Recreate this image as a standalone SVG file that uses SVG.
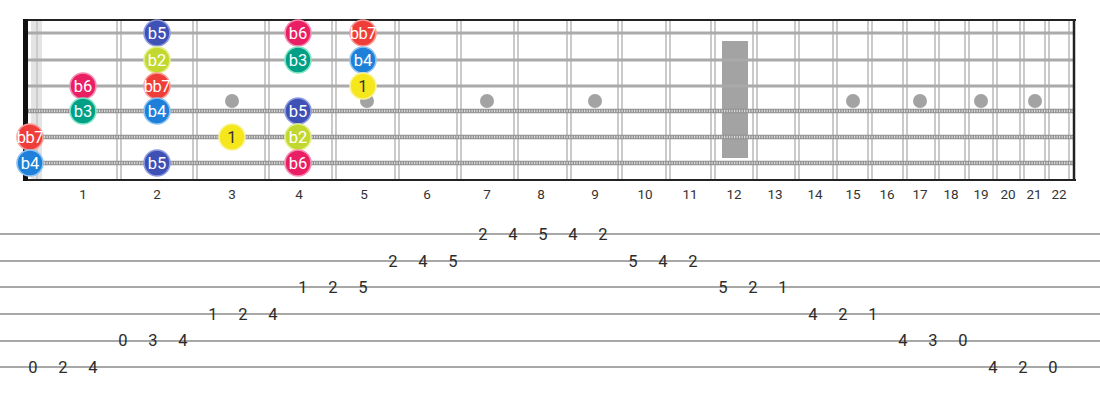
<svg xmlns="http://www.w3.org/2000/svg" width="1100" height="400" viewBox="0 0 1100 400">
<style>
.fret{stroke:#bdbdbd;stroke-width:1.6;}
.plain{stroke:#aaaaaa;stroke-width:2.8;}
.woundBase{stroke:#8f8f8f;stroke-width:4.5;}
.woundTex{stroke:#dcdcdc;stroke-width:2.5;stroke-dasharray:1.2 1.3;}
.inlay{fill:#a3a3a3;}
.flab{font-family:Roboto,"Liberation Sans",sans-serif;font-size:13.5px;fill:#333;text-anchor:middle;}
.note text{font-family:Roboto,"Liberation Sans",sans-serif;font-size:16.5px;fill:#fff;text-anchor:middle;dominant-baseline:central;}
.note circle{stroke-width:1.6;}
.b5 circle{fill:#3f51b5;stroke:#8e9be0;}
.b2 circle{fill:#c2d82f;stroke:#e3f08a;}
.b6 circle{fill:#e91e63;stroke:#f68db2;}
.bb7 circle{fill:#ef3e3a;stroke:#f79a98;}
.bb7 text{letter-spacing:-0.5px;}
.b3 circle{fill:#00a086;stroke:#7fe6c6;}
.b4 circle{fill:#1e80d9;stroke:#8cc3f2;}
.r1 circle{fill:#f6e61c;stroke:#fbf39a;}
.r1 text{fill:#333;}
.tabline{stroke:#a8a8a8;stroke-width:1.8;}
.tab{font-family:Roboto,"Liberation Sans",sans-serif;font-size:16.5px;fill:#2b2b2b;text-anchor:middle;dominant-baseline:central;}
</style>
<rect width="1100" height="400" fill="#fff"/>
<g id="fretboard">
  <rect x="31" y="20" width="11" height="160" fill="#e4e4e4"/>
  <line x1="37" y1="20" x2="37" y2="180" stroke="#c4c4c4" stroke-width="1.5"/>
  <g id="frets">
    <line class="fret" x1="117" y1="20" x2="117" y2="180"/><line class="fret" x1="121" y1="20" x2="121" y2="180"/>
    <line class="fret" x1="193" y1="20" x2="193" y2="180"/><line class="fret" x1="197" y1="20" x2="197" y2="180"/>
    <line class="fret" x1="265" y1="20" x2="265" y2="180"/><line class="fret" x1="269" y1="20" x2="269" y2="180"/>
    <line class="fret" x1="332" y1="20" x2="332" y2="180"/><line class="fret" x1="336" y1="20" x2="336" y2="180"/>
    <line class="fret" x1="395" y1="20" x2="395" y2="180"/><line class="fret" x1="399" y1="20" x2="399" y2="180"/>
    <line class="fret" x1="457" y1="20" x2="457" y2="180"/><line class="fret" x1="461" y1="20" x2="461" y2="180"/>
    <line class="fret" x1="514" y1="20" x2="514" y2="180"/><line class="fret" x1="518" y1="20" x2="518" y2="180"/>
    <line class="fret" x1="567" y1="20" x2="567" y2="180"/><line class="fret" x1="571" y1="20" x2="571" y2="180"/>
    <line class="fret" x1="618" y1="20" x2="618" y2="180"/><line class="fret" x1="622" y1="20" x2="622" y2="180"/>
    <line class="fret" x1="666" y1="20" x2="666" y2="180"/><line class="fret" x1="670" y1="20" x2="670" y2="180"/>
    <line class="fret" x1="711" y1="20" x2="711" y2="180"/><line class="fret" x1="715" y1="20" x2="715" y2="180"/>
    <line class="fret" x1="753" y1="20" x2="753" y2="180"/><line class="fret" x1="757" y1="20" x2="757" y2="180"/>
    <line class="fret" x1="795" y1="20" x2="795" y2="180"/><line class="fret" x1="799" y1="20" x2="799" y2="180"/>
    <line class="fret" x1="833" y1="20" x2="833" y2="180"/><line class="fret" x1="837" y1="20" x2="837" y2="180"/>
    <line class="fret" x1="868" y1="20" x2="868" y2="180"/><line class="fret" x1="872" y1="20" x2="872" y2="180"/>
    <line class="fret" x1="903" y1="20" x2="903" y2="180"/><line class="fret" x1="907" y1="20" x2="907" y2="180"/>
    <line class="fret" x1="935" y1="20" x2="935" y2="180"/><line class="fret" x1="939" y1="20" x2="939" y2="180"/>
    <line class="fret" x1="965" y1="20" x2="965" y2="180"/><line class="fret" x1="969" y1="20" x2="969" y2="180"/>
    <line class="fret" x1="993" y1="20" x2="993" y2="180"/><line class="fret" x1="997" y1="20" x2="997" y2="180"/>
    <line class="fret" x1="1020" y1="20" x2="1020" y2="180"/><line class="fret" x1="1024" y1="20" x2="1024" y2="180"/>
    <line class="fret" x1="1045" y1="20" x2="1045" y2="180"/><line class="fret" x1="1049" y1="20" x2="1049" y2="180"/>
    <line class="fret" x1="1069" y1="20" x2="1069" y2="180"/>
  </g>
  <g id="inlays">
    <circle class="inlay" cx="232" cy="101" r="7"/>
    <circle class="inlay" cx="367" cy="101" r="7"/>
    <circle class="inlay" cx="487" cy="101" r="7"/>
    <circle class="inlay" cx="595" cy="101" r="7"/>
    <rect class="inlay" x="722" y="41" width="26" height="117"/>
    <circle class="inlay" cx="853" cy="101" r="7"/>
    <circle class="inlay" cx="920" cy="101" r="7"/>
    <circle class="inlay" cx="981" cy="101" r="7"/>
    <circle class="inlay" cx="1035" cy="101" r="7"/>
  </g>
  <g id="strings">
    <line class="plain" x1="24" y1="33" x2="1075" y2="33"/>
    <line class="plain" x1="24" y1="60" x2="1075" y2="60"/>
    <line class="plain" x1="24" y1="86" x2="1075" y2="86"/>
    <line class="woundBase" x1="24" y1="111" x2="1075" y2="111"/><line class="woundTex" x1="24" y1="111" x2="1075" y2="111"/>
    <line class="woundBase" x1="24" y1="137" x2="1075" y2="137"/><line class="woundTex" x1="24" y1="137" x2="1075" y2="137"/>
    <line class="woundBase" x1="24" y1="163" x2="1075" y2="163"/><line class="woundTex" x1="24" y1="163" x2="1075" y2="163"/>
  </g>
  <line x1="23" y1="20" x2="1076" y2="20" stroke="#222" stroke-width="2"/>
  <line x1="23" y1="180" x2="1076" y2="180" stroke="#222" stroke-width="2"/>
  <line x1="25.5" y1="19" x2="25.5" y2="181" stroke="#111" stroke-width="5"/>
  <line x1="1074" y1="19" x2="1074" y2="181" stroke="#222" stroke-width="2.5"/>
  <g id="fret-labels">
    <text class="flab" x="83" y="199">1</text>
    <text class="flab" x="157" y="199">2</text>
    <text class="flab" x="232" y="199">3</text>
    <text class="flab" x="299" y="199">4</text>
    <text class="flab" x="364" y="199">5</text>
    <text class="flab" x="427" y="199">6</text>
    <text class="flab" x="487" y="199">7</text>
    <text class="flab" x="541" y="199">8</text>
    <text class="flab" x="595" y="199">9</text>
    <text class="flab" x="645" y="199">10</text>
    <text class="flab" x="690" y="199">11</text>
    <text class="flab" x="734" y="199">12</text>
    <text class="flab" x="775" y="199">13</text>
    <text class="flab" x="815" y="199">14</text>
    <text class="flab" x="853" y="199">15</text>
    <text class="flab" x="887" y="199">16</text>
    <text class="flab" x="920" y="199">17</text>
    <text class="flab" x="951" y="199">18</text>
    <text class="flab" x="981" y="199">19</text>
    <text class="flab" x="1008" y="199">20</text>
    <text class="flab" x="1034" y="199">21</text>
    <text class="flab" x="1059" y="199">22</text>
  </g>
</g>
<g id="notes">
  <g id="n-s1-f2" class="note b5"><circle cx="157" cy="33" r="13"/><text x="157" y="33">b5</text></g>
  <g id="n-s1-f4" class="note b6"><circle cx="298" cy="33" r="13"/><text x="298" y="33">b6</text></g>
  <g id="n-s1-f5" class="note bb7"><circle cx="363" cy="33" r="13"/><text x="363" y="33">bb7</text></g>
  <g id="n-s2-f2" class="note b2"><circle cx="157" cy="60" r="13"/><text x="157" y="60">b2</text></g>
  <g id="n-s2-f4" class="note b3"><circle cx="298" cy="60" r="13"/><text x="298" y="60">b3</text></g>
  <g id="n-s2-f5" class="note b4"><circle cx="363" cy="60" r="13"/><text x="363" y="60">b4</text></g>
  <g id="n-s3-f1" class="note b6"><circle cx="83" cy="86" r="13"/><text x="83" y="86">b6</text></g>
  <g id="n-s3-f2" class="note bb7"><circle cx="157" cy="86" r="13"/><text x="157" y="86">bb7</text></g>
  <g id="n-s3-f5" class="note r1"><circle cx="363" cy="86" r="13"/><text x="363" y="86">1</text></g>
  <g id="n-s4-f1" class="note b3"><circle cx="83" cy="111" r="13"/><text x="83" y="111">b3</text></g>
  <g id="n-s4-f2" class="note b4"><circle cx="157" cy="111" r="13"/><text x="157" y="111">b4</text></g>
  <g id="n-s4-f4" class="note b5"><circle cx="298" cy="111" r="13"/><text x="298" y="111">b5</text></g>
  <g id="n-s5-f0" class="note bb7"><circle cx="30" cy="137" r="13"/><text x="30" y="137">bb7</text></g>
  <g id="n-s5-f3" class="note r1"><circle cx="232" cy="137" r="13"/><text x="232" y="137">1</text></g>
  <g id="n-s5-f4" class="note b2"><circle cx="298" cy="137" r="13"/><text x="298" y="137">b2</text></g>
  <g id="n-s6-f0" class="note b4"><circle cx="30" cy="163" r="13"/><text x="30" y="163">b4</text></g>
  <g id="n-s6-f2" class="note b5"><circle cx="157" cy="163" r="13"/><text x="157" y="163">b5</text></g>
  <g id="n-s6-f4" class="note b6"><circle cx="298" cy="163" r="13"/><text x="298" y="163">b6</text></g>
</g>
<g id="tab">
  <g id="tab-lines">
    <line class="tabline" x1="0" y1="234" x2="1100" y2="234"/>
    <line class="tabline" x1="0" y1="261" x2="1100" y2="261"/>
    <line class="tabline" x1="0" y1="287" x2="1100" y2="287"/>
    <line class="tabline" x1="0" y1="314" x2="1100" y2="314"/>
    <line class="tabline" x1="0" y1="341" x2="1100" y2="341"/>
    <line class="tabline" x1="0" y1="367" x2="1100" y2="367"/>
  </g>
  <g id="tab-numbers">
    <text class="tab" x="33" y="367">0</text><text class="tab" x="63" y="367">2</text><text class="tab" x="93" y="367">4</text>
    <text class="tab" x="123" y="340">0</text><text class="tab" x="153" y="340">3</text><text class="tab" x="183" y="340">4</text>
    <text class="tab" x="213" y="314">1</text><text class="tab" x="243" y="314">2</text><text class="tab" x="273" y="314">4</text>
    <text class="tab" x="303" y="287">1</text><text class="tab" x="333" y="287">2</text><text class="tab" x="363" y="287">5</text>
    <text class="tab" x="393" y="261">2</text><text class="tab" x="423" y="261">4</text><text class="tab" x="453" y="261">5</text>
    <text class="tab" x="483" y="234">2</text><text class="tab" x="513" y="234">4</text><text class="tab" x="543" y="234">5</text><text class="tab" x="573" y="234">4</text><text class="tab" x="603" y="234">2</text>
    <text class="tab" x="633" y="261">5</text><text class="tab" x="663" y="261">4</text><text class="tab" x="693" y="261">2</text>
    <text class="tab" x="723" y="287">5</text><text class="tab" x="753" y="287">2</text><text class="tab" x="783" y="287">1</text>
    <text class="tab" x="813" y="314">4</text><text class="tab" x="843" y="314">2</text><text class="tab" x="873" y="314">1</text>
    <text class="tab" x="903" y="340">4</text><text class="tab" x="933" y="340">3</text><text class="tab" x="963" y="340">0</text>
    <text class="tab" x="993" y="367">4</text><text class="tab" x="1023" y="367">2</text><text class="tab" x="1053" y="367">0</text>
  </g>
</g>
</svg>
